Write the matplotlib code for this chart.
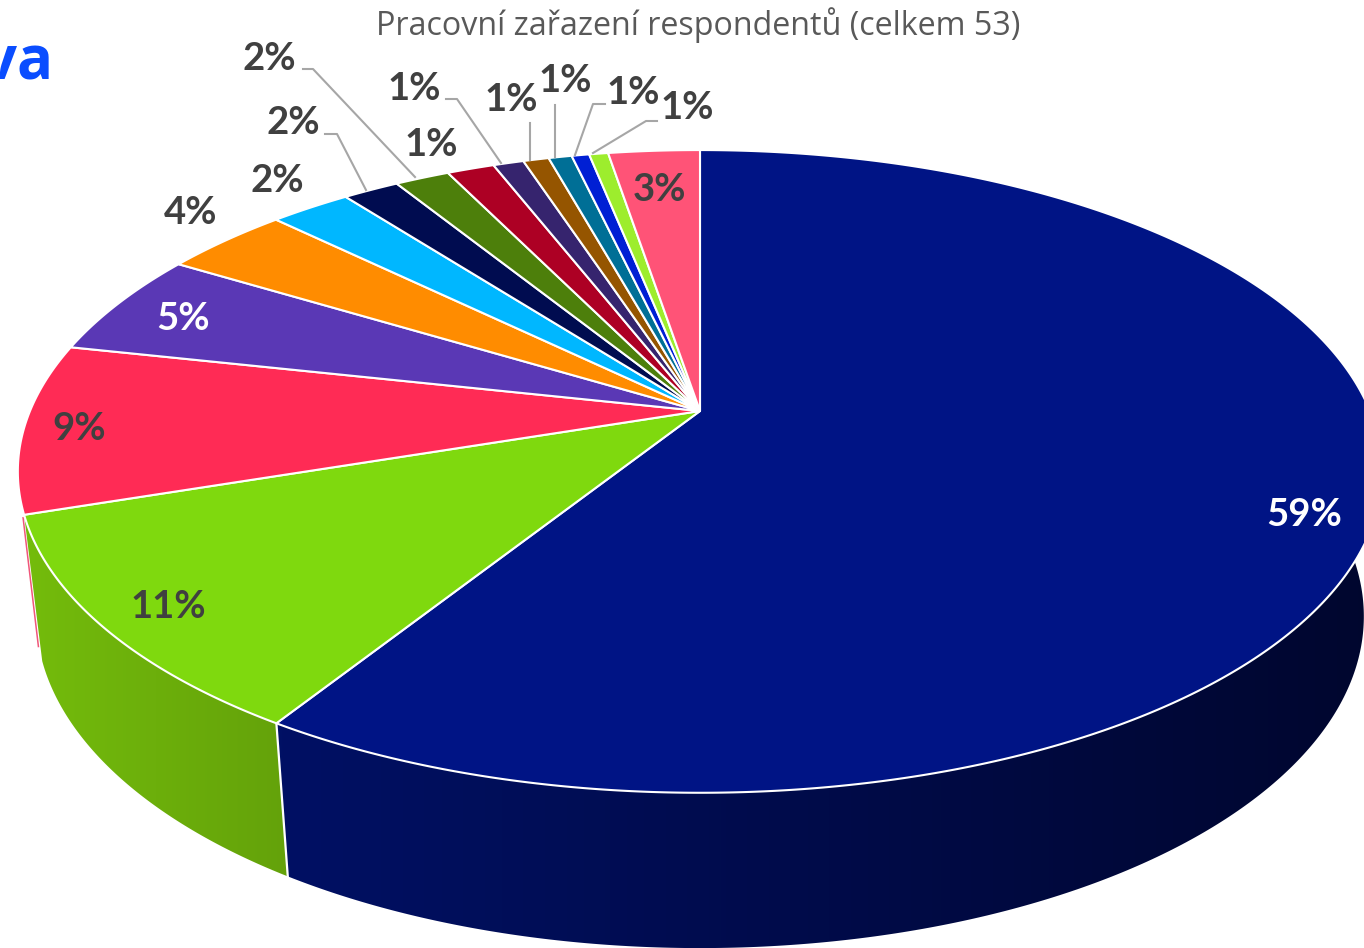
import matplotlib
matplotlib.use("Agg")
import matplotlib.pyplot as plt
import matplotlib.colors as mcolors
from matplotlib.patches import Polygon
import numpy as np

title = "Pracovní zařazení respondentů (celkem 53)"
slice_labels = ["59%", "11%", "9%", "5%", "4%", "2%", "2%", "2%", "1%", "1%", "1%", "1%", "1%", "1%", "3%"]
# slice sizes (labels are rounded, the angles are not)
slice_values = [58.92, 10.98, 8.53, 5.27, 3.6, 2.3, 1.6, 1.55, 1.35, 0.87, 0.73, 0.66, 0.5, 0.54, 2.6]
top_colors = ["#001485", "#7fd90e", "#ff2b55", "#5a38b5", "#ff8c00", "#00b7ff", "#000c50", "#4d7f0b",
              "#ad0024", "#36246e", "#955500", "#006f96", "#001fd4", "#9ded2d", "#ff5377"]
label_colors = ["white", "#404040", "#404040", "white", "#404040", "#404040", "#404040", "#404040",
                "#404040", "#404040", "#404040", "#404040", "#404040", "#404040", "#404040"]
label_xy = [(1304, 515), (168, 607), (79, 429), (183, 319), (191, 213), (277, 181), (293, 123), (269, 59),
            (431, 145), (414, 89), (511, 100), (565, 81), (633, 93), (687, 108), (659, 190)]
leaders = [
    [(303, 69), (313, 69), (415, 177)],
    [(325, 134), (337, 134), (366, 190)],
    [(446, 99), (457, 99), (501, 163)],
    [(530, 123), (530, 160)],
    [(555, 105), (555, 157)],
    [(605, 104), (593, 104), (575, 155)],
    [(657, 121), (646, 121), (593, 153)],
]
wall_gradients = {0: ("#001064", "#00062e"), 1: ("#74bc0c", "#64a20a")}

# perspective disc: top rim and bottom rim of the cake
CX = 700
PERSP = 0.188
TOP = (670, 310, 411)
BOTTOM = (652, 320, 554)


def rim(theta, params):
    rx, ry, cy = params
    u = np.sin(theta)
    v = -np.cos(theta)
    s = 1 / (1 - PERSP * v)
    return CX + rx * u * s, cy + ry * v * s


fig = plt.figure(figsize=(13.64, 9.48), dpi=100)
ax = fig.add_axes([0, 0, 1, 1])
ax.axis("off")

edges = np.deg2rad(np.cumsum([0] + slice_values) * 3.6)

# front walls, gradient clipped to each wall outline
for i, (left, right) in wall_gradients.items():
    start = np.deg2rad(60) if i == 0 else edges[i]
    th = np.linspace(start, edges[i + 1], 300)
    x1, y1 = rim(th, TOP)
    x2, y2 = rim(th, BOTTOM)
    xs = np.r_[x1, x2[::-1]]
    ys = np.r_[y1, y2[::-1]]
    poly = Polygon(np.c_[xs, ys], transform=ax.transData, fc="none", ec="none")
    ax.add_patch(poly)
    cmap = mcolors.LinearSegmentedColormap.from_list("wall", [left, right])
    grad = np.linspace(0, 1, 256)[None, :]
    img = ax.imshow(grad, cmap=cmap, extent=(xs.min(), xs.max(), 948, 0), aspect="auto", zorder=1, interpolation="bilinear")
    img.set_clip_path(poly)

ax.set_xlim(0, 1364)
ax.set_ylim(948, 0)

# seam between the green and navy walls
sx1, sy1 = rim(edges[1], TOP)
sx2, sy2 = rim(edges[1], BOTTOM)
ax.plot([sx1, sx2], [sy1, sy2], color="white", lw=1.6, zorder=2)

# thin sliver of the red wall left of the green one
rx1, ry1 = rim(edges[2], TOP)
rx2, ry2 = rim(edges[2], BOTTOM)
ax.plot([rx1 - 1, rx1 + (rx2 - rx1) * 0.9 - 2], [ry1 + 3, ry1 + (ry2 - ry1) * 0.9], color="#f0567a", lw=1.1, zorder=2)

# top faces
for i, color in enumerate(top_colors):
    th = np.linspace(edges[i], edges[i + 1], max(int((edges[i + 1] - edges[i]) * 200), 8))
    x, y = rim(th, TOP)
    ax.fill(np.r_[CX, x], np.r_[TOP[2], y], facecolor=color, edgecolor="white", lw=1.5, joinstyle="round", zorder=3)

for pts in leaders:
    ax.plot([p[0] for p in pts], [p[1] for p in pts], color="#a6a6a6", lw=1.5, zorder=4)

for text, (x, y), color in zip(slice_labels, label_xy, label_colors):
    ax.text(x, y, text, color=color, fontsize=27.5, fontweight="bold", family="Lato", ha="center", va="center", zorder=5)

ax.text(698, 25, title, color="#595959", fontsize=23.2, family="Open Sans", ha="center", va="center", zorder=5)
ax.text(53, 64, "va", color="#0a4dff", fontsize=43, fontweight="bold", family="Open Sans", ha="right", va="center", zorder=5)

fig.savefig("out.png", dpi=100)
